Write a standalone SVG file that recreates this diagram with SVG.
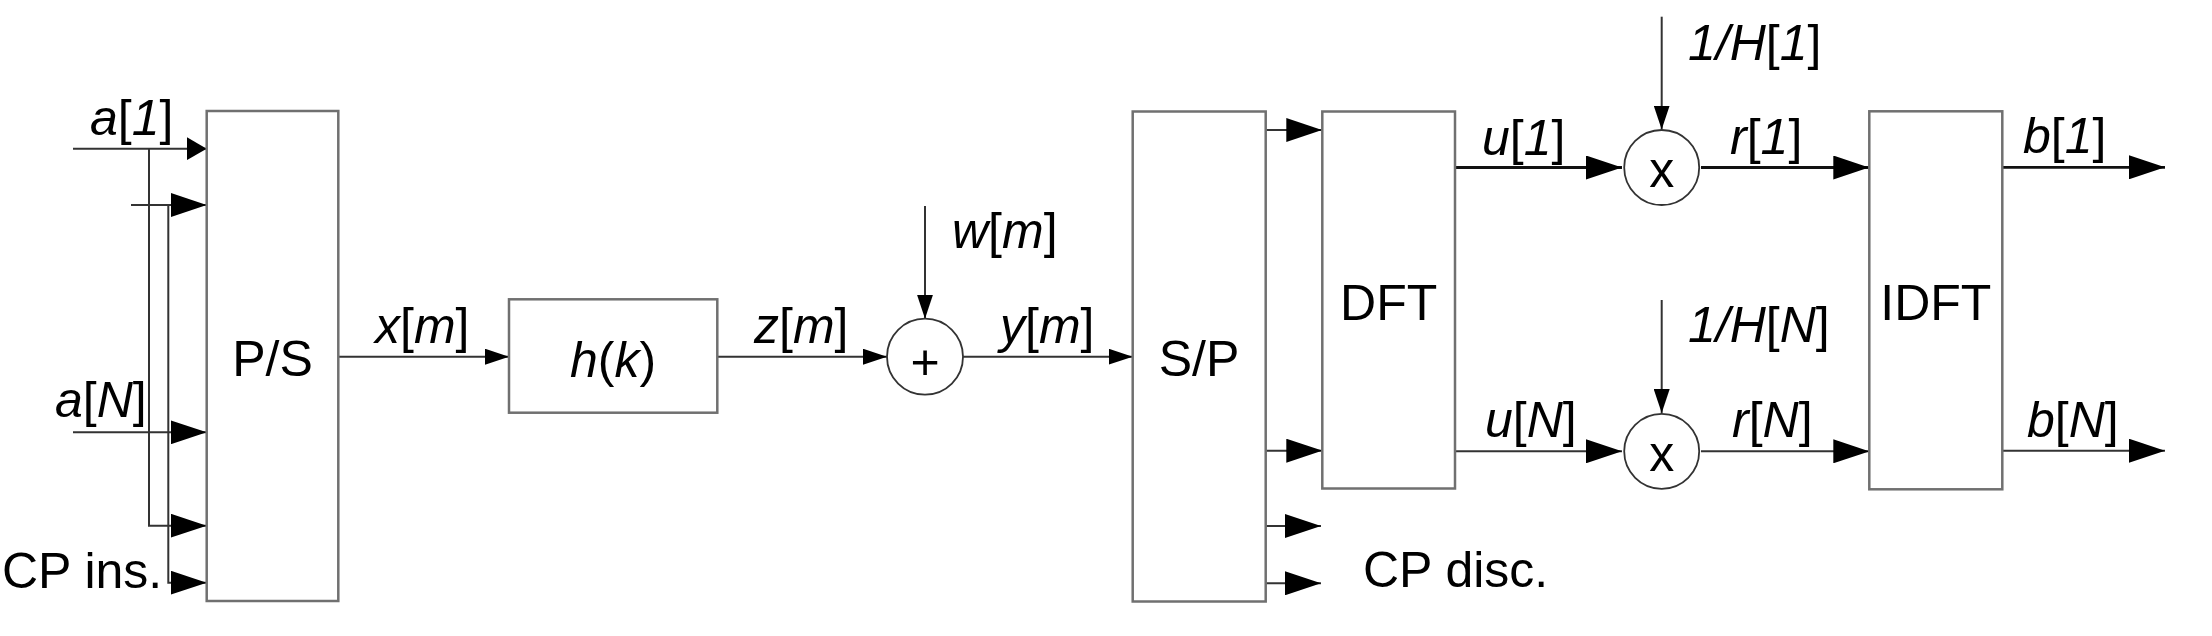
<svg xmlns="http://www.w3.org/2000/svg" width="2212" height="636" viewBox="0 0 2212 636">
<style>
.box{fill:#fff;stroke:#707070;stroke-width:2.5}
.circ{fill:#fff;stroke:#333;stroke-width:1.8}
.ln{fill:none;stroke:#333;stroke-width:2}
.lnb{fill:none;stroke:#111;stroke-width:2.8}
.t{font-family:"Liberation Sans",Arial,sans-serif;font-size:50px;fill:#000}
.c{text-anchor:middle}
.i{font-style:italic}
</style>
<defs>
<marker id="aL" markerUnits="userSpaceOnUse" viewBox="0 0 36 24" markerWidth="36" markerHeight="24" refX="36" refY="12" orient="auto"><path d="M0,0 L36,12 L0,24 Z" fill="#000"/></marker>
<marker id="aS" markerUnits="userSpaceOnUse" viewBox="0 0 24 16" markerWidth="24" markerHeight="16" refX="24" refY="8" orient="auto"><path d="M0,0 L24,8 L0,16 Z" fill="#000"/></marker>
<marker id="aT" markerUnits="userSpaceOnUse" viewBox="0 0 20 23" markerWidth="20" markerHeight="23" refX="20" refY="11.5" orient="auto"><path d="M0,0 L20,11.5 L0,23 Z" fill="#000"/></marker>
</defs>

<g id="connectors">
  <!-- P/S inputs -->
  <path class="ln" d="M73,148.7 H206.7" marker-end="url(#aT)"/>
  <path class="ln" d="M149,148.7 V525.7 H206.7" marker-end="url(#aL)"/>
  <path class="ln" d="M131,205 H206.7" marker-end="url(#aL)"/>
  <path class="ln" d="M168.3,205 V582.7 H206.7" marker-end="url(#aL)"/>
  <path class="ln" d="M73,432.3 H206.7" marker-end="url(#aL)"/>
  <!-- chain -->
  <path class="ln" d="M338.3,356.7 H509" marker-end="url(#aS)"/>
  <path class="ln" d="M717.3,356.7 H887" marker-end="url(#aS)"/>
  <path class="ln" d="M925,206 V318.7" marker-end="url(#aS)"/>
  <path class="ln" d="M963,356.7 H1132.7" marker-end="url(#aS)"/>
  <!-- S/P outputs -->
  <path class="ln" d="M1265.7,130 H1322.3" marker-end="url(#aL)"/>
  <path class="ln" d="M1265.7,450.7 H1322.3" marker-end="url(#aL)"/>
  <path class="ln" d="M1265.7,526 H1321" marker-end="url(#aL)"/>
  <path class="ln" d="M1265.7,583.3 H1321" marker-end="url(#aL)"/>
  <!-- DFT outputs -->
  <path class="lnb" d="M1455,167.5 H1622" marker-end="url(#aL)"/>
  <path class="ln" d="M1455,451.3 H1622" marker-end="url(#aL)"/>
  <path class="ln" d="M1661.7,16.7 V129.5" marker-end="url(#aS)"/>
  <path class="ln" d="M1661.7,300 V413" marker-end="url(#aS)"/>
  <path class="lnb" d="M1701,167.5 H1869.3" marker-end="url(#aL)"/>
  <path class="ln" d="M1701,451.3 H1869.3" marker-end="url(#aL)"/>
  <!-- IDFT outputs -->
  <path class="lnb" d="M1999,167.3 H2165" marker-end="url(#aL)"/>
  <path class="ln" d="M1999,450.7 H2165" marker-end="url(#aL)"/>
</g>

<g id="ps">
  <rect class="box" x="206.7" y="111" width="131.6" height="490"/>
  <text class="t c" x="272.5" y="376">P/S</text>
</g>
<g id="hk">
  <rect class="box" x="509" y="299.3" width="208.3" height="113.4"/>
  <text class="t c" x="613" y="377"><tspan class="i">h</tspan>(<tspan class="i">k</tspan>)</text>
</g>
<g id="sum">
  <circle class="circ" cx="925" cy="356.7" r="38"/>
  <text class="t c" x="925" y="379">+</text>
</g>
<g id="sp">
  <rect class="box" x="1132.7" y="111.5" width="133" height="490"/>
  <text class="t c" x="1199" y="376">S/P</text>
</g>
<g id="dft">
  <rect class="box" x="1322.3" y="111.5" width="132.7" height="377"/>
  <text class="t c" x="1388.7" y="320">DFT</text>
</g>
<g id="mul1">
  <circle class="circ" cx="1661.7" cy="167.5" r="37.5"/>
  <text class="t c" x="1661.7" y="187">x</text>
</g>
<g id="mulN">
  <circle class="circ" cx="1661.7" cy="451.3" r="37.5"/>
  <text class="t c" x="1661.7" y="471">x</text>
</g>
<g id="idft">
  <rect class="box" x="1869.3" y="111.3" width="133" height="378"/>
  <text class="t c" x="1935.8" y="320">IDFT</text>
</g>

<g id="labels">
  <text class="t" x="90" y="135"><tspan class="i">a</tspan>[<tspan class="i">1</tspan>]</text>
  <text class="t" x="55" y="417"><tspan class="i">a</tspan>[<tspan class="i">N</tspan>]</text>
  <text class="t" x="2" y="588">CP ins.</text>
  <text class="t" x="375" y="343"><tspan class="i">x</tspan>[<tspan class="i">m</tspan>]</text>
  <text class="t" x="754" y="343"><tspan class="i">z</tspan>[<tspan class="i">m</tspan>]</text>
  <text class="t" x="952" y="248"><tspan class="i">w</tspan>[<tspan class="i">m</tspan>]</text>
  <text class="t" x="1000" y="343"><tspan class="i">y</tspan>[<tspan class="i">m</tspan>]</text>
  <text class="t" x="1363" y="587">CP disc.</text>
  <text class="t" x="1482" y="155"><tspan class="i">u</tspan>[<tspan class="i">1</tspan>]</text>
  <text class="t" x="1485" y="437"><tspan class="i">u</tspan>[<tspan class="i">N</tspan>]</text>
  <text class="t" x="1688" y="60"><tspan class="i">1/H</tspan>[<tspan class="i">1</tspan>]</text>
  <text class="t" x="1688" y="342"><tspan class="i">1/H</tspan>[<tspan class="i">N</tspan>]</text>
  <text class="t" x="1730" y="154"><tspan class="i">r</tspan>[<tspan class="i">1</tspan>]</text>
  <text class="t" x="1732" y="437"><tspan class="i">r</tspan>[<tspan class="i">N</tspan>]</text>
  <text class="t" x="2023" y="153"><tspan class="i">b</tspan>[<tspan class="i">1</tspan>]</text>
  <text class="t" x="2027" y="437"><tspan class="i">b</tspan>[<tspan class="i">N</tspan>]</text>
</g>
</svg>
